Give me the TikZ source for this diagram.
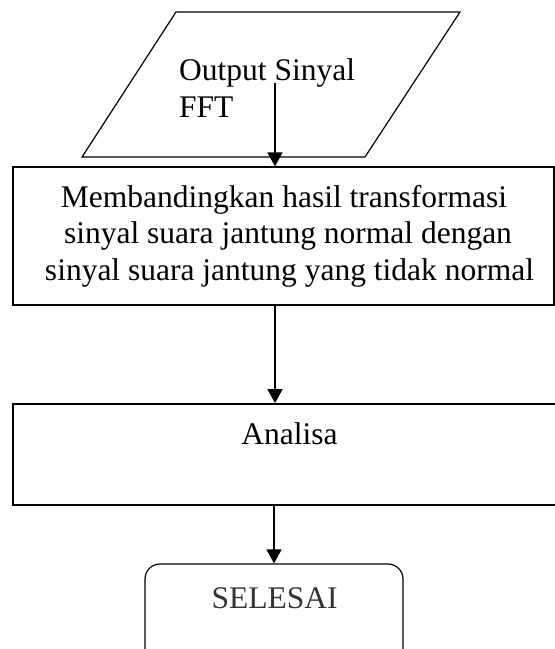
\documentclass[tikz,border=0pt]{standalone}
\usepackage{fontspec}
\setmainfont{Liberation Serif}
\usetikzlibrary{arrows.meta}
\begin{document}
\begin{tikzpicture}[x=1pt,y=-1pt,
  txt/.style={inner sep=0pt,anchor=base,font=\fontsize{31.5}{37}\selectfont},
  thinbox/.style={draw,line width=1.2pt,inner sep=0pt},
  thickbox/.style={draw,line width=1.8pt,inner sep=0pt},
  flow/.style={line width=1.8pt,-{Triangle[width=15pt,length=14pt]}}]
\useasboundingbox (0,0) rectangle (555,649);
\clip (0,0) rectangle (555,649);
% input parallelogram
\draw[line width=1.2pt,line join=miter] (176,12) -- (460,12) -- (365,157) -- (82,157) -- cycle;
\node[txt,anchor=base west] (out1) at (179,80) {Output Sinyal};
\node[txt,anchor=base west] (out2) at (179,117) {FFT};
\coordinate (start) at (275,83);
% process box
\node[thinbox,minimum width=541pt,minimum height=138pt] (proc) at (283.5,236) {};
\node[txt] (p1) at (284,207) {Membandingkan hasil transformasi};
\node[txt] (p2) at (288,243) {sinyal suara jantung normal dengan};
\node[txt] (p3) at (289.5,280) {sinyal suara jantung yang tidak normal};
% analisa box
\node[thickbox,minimum width=548pt,minimum height=101pt] (anal) at (287,454.5) {};
\node[txt] (atext) at (289.5,444) {Analisa};
% terminator
\node[draw,line width=1.2pt,rounded corners=15pt,minimum width=258pt,minimum height=120pt,inner sep=0pt] (end) at (274,624) {};
\node[txt,text=black!80] (etext) at (274.5,608) {SELESAI};
% connectors
\draw[flow] (start) -- (start |- proc.north);
\draw[flow] (proc.south -| 275,0) -- (anal.north -| 275,0);
\draw[flow] (anal.south -| end.north) -- (end.north);
\end{tikzpicture}
\end{document}
